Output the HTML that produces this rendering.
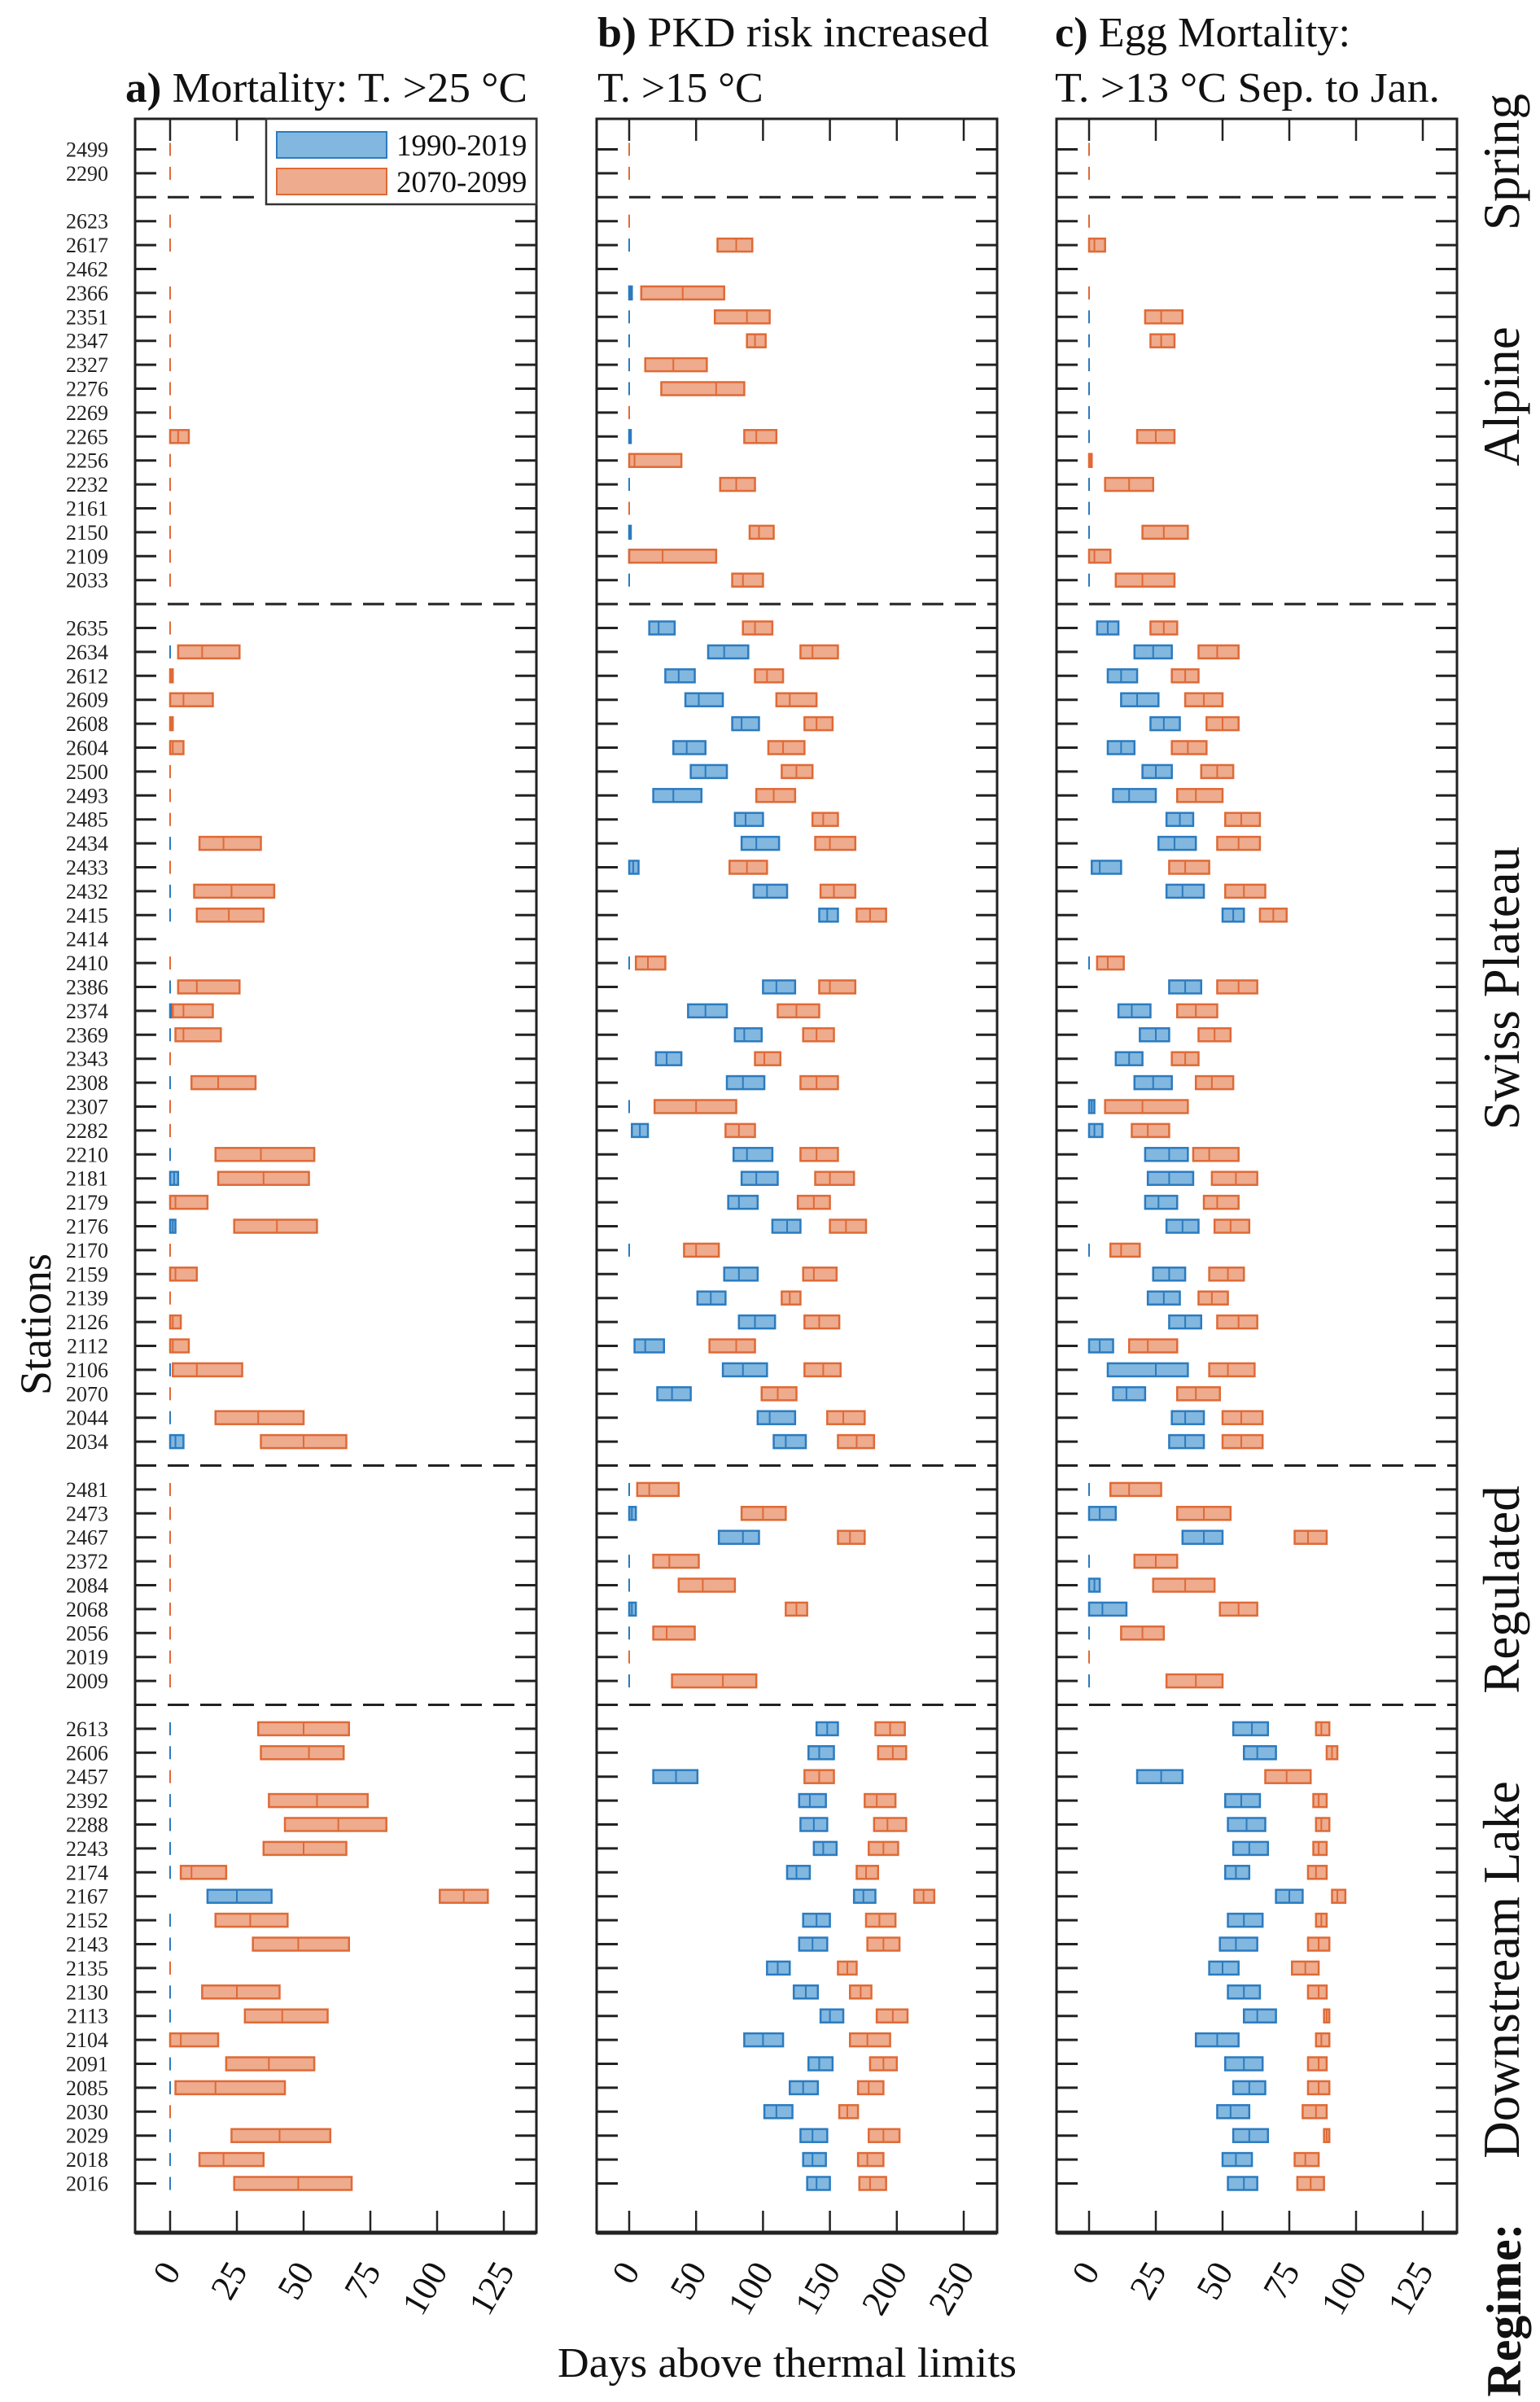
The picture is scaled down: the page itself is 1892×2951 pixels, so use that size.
<!DOCTYPE html>
<html><head><meta charset="utf-8"><style>
html,body{margin:0;padding:0;background:#fff;}
svg{display:block;font-family:"Liberation Serif",serif;}
</style></head><body>
<svg id="chart" width="1892" height="2951" viewBox="0 0 1892 2951" xmlns="http://www.w3.org/2000/svg">
<rect x="0" y="0" width="1892" height="2951" fill="#fff"/>
<g id="layer"></g>
</svg>
<script>
const stations = [2499,2290,
2623,2617,2462,2366,2351,2347,2327,2276,2269,2265,2256,2232,2161,2150,2109,2033,
2635,2634,2612,2609,2608,2604,2500,2493,2485,2434,2433,2432,2415,2414,2410,2386,2374,2369,2343,2308,2307,2282,2210,2181,2179,2176,2170,2159,2139,2126,2112,2106,2070,2044,2034,
2481,2473,2467,2372,2084,2068,2056,2019,2009,
2613,2606,2457,2392,2288,2243,2174,2167,2152,2143,2135,2130,2113,2104,2091,2085,2030,2029,2018,2016];
const groupNames = ["Spring","Alpine","Swiss Plateau","Regulated","Downstream Lake"];
const groupSizes = [2,16,35,9,20];
const N = null;
const aBlue = [N,N,
N,N,N,N,N,N,N,N,N,N,N,N,N,N,N,N,
N,0,N,N,N,N,N,N,N,0,0,0,0,N,N,0,[0,0.5,1],0,N,0,N,0,0,[0,1.5,3],N,[0,1,2],N,N,N,N,N,0,N,0,[0,2,5],
N,N,N,N,N,N,N,N,N,
0,0,N,0,0,0,0,[14,25,38],0,0,N,0,0,N,0,0,N,0,0,0];
const aOrange = [0,0,
0,0,N,0,0,0,0,0,0,[0,3,7],0,0,0,0,0,0,
0,[3,12,26],[0,0.5,1],[0,5,16],[0,0.5,1],[0,1,5],0,0,0,[11,20,34],0,[9,23,39],[10,22,35],N,0,[3,10,26],[1,5,16],[2,5,19],0,[8,18,32],0,0,[17,34,54],[18,35,52],[0,2,14],[24,40,55],0,[0,2,10],0,[0,1,4],[0,1,7],[1,10,27],0,[17,33,50],[34,50,66],
0,0,0,0,0,0,0,0,0,
[33,50,67],[34,52,65],0,[37,55,74],[43,63,81],[35,50,66],[4,8,21],[101,110,119],[17,30,44],[31,48,67],0,[12,25,41],[28,42,59],[0,4,18],[21,37,54],[2,17,43],0,[23,41,60],[11,20,35],[24,48,68]];
const bBlue = [N,N,
N,0,N,[0,1,2],0,0,0,0,N,[0,0.5,1],N,0,N,[0,0.5,1],[0,0.5,1],0,
[15,22,34],[59,71,89],[27,37,49],[42,52,70],[77,84,97],[33,43,57],[46,57,73],[18,33,54],[79,87,100],[84,95,112],[0,3,7],[93,103,118],[142,148,156],N,0,[100,110,124],[44,57,73],[79,86,99],[20,28,39],[73,85,101],0,[2,8,14],[78,88,107],[84,95,111],[74,82,96],[107,118,128],0,[71,82,96],[51,61,72],[82,94,109],[4,12,26],[70,85,103],[21,32,46],[96,105,124],[108,117,132],
0,[0,2,5],[67,85,97],0,0,[0,2,5],0,N,0,
[140,148,156],[134,142,153],[18,35,51],[127,135,147],[128,138,148],[138,145,155],[118,125,135],[168,175,184],[130,140,150],[127,137,148],[103,111,120],[123,132,141],[143,150,160],[86,100,115],[134,142,152],[120,130,141],[101,110,122],[128,137,148],[130,137,147],[133,140,150]];
const bOrange = [0,0,
0,[66,80,92],N,[9,40,71],[64,88,105],[88,94,102],[12,33,58],[24,65,86],0,[86,95,110],[0,4,39],[68,80,94],0,[90,97,108],[0,25,65],[77,85,100],
[85,94,107],[128,137,156],[94,103,115],[110,120,140],[131,140,152],[104,115,131],[114,125,137],[95,108,124],[137,145,156],[139,150,169],[75,88,103],[143,153,169],[170,180,192],N,[5,14,27],[142,150,169],[111,125,142],[130,140,153],[94,101,113],[128,140,156],[19,50,80],[72,82,94],[128,140,156],[139,150,168],[126,138,150],[150,162,177],[41,50,67],[130,138,155],[114,120,128],[131,142,157],[60,80,94],[131,145,158],[99,111,125],[148,160,176],[156,170,183],
[6,15,37],[84,100,117],[156,165,176],[18,30,52],[37,55,79],[117,125,133],[18,28,49],0,[32,70,95],
[184,195,206],[186,197,207],[131,142,153],[176,185,199],[183,193,207],[179,190,201],[170,177,186],[213,220,228],[177,187,199],[178,190,202],[156,163,170],[165,173,181],[185,197,208],[165,178,195],[180,190,200],[171,179,190],[157,163,171],[179,190,202],[171,178,190],[172,180,192]];
const cBlue = [N,N,
N,N,N,N,0,0,0,0,0,0,N,0,0,0,N,0,
[3,7,11],[17,24,31],[7,12,18],[12,18,26],[23,28,34],[7,12,17],[20,25,31],[9,15,25],[29,34,39],[26,32,40],[1,4,12],[29,35,43],[50,54,58],N,0,[30,36,42],[11,16,23],[19,25,30],[10,15,20],[17,24,31],[0,1,2],[0,2,5],[21,30,37],[22,30,39],[21,26,33],[29,35,41],0,[24,30,36],[22,28,34],[30,36,42],[0,4,9],[7,25,37],[9,14,21],[31,36,43],[30,36,43],
0,[0,4,10],[35,43,50],0,[0,2,4],[0,5,14],0,N,0,
[54,61,67],[58,63,70],[18,27,35],[51,57,64],[52,59,66],[54,60,67],[51,55,60],[70,75,80],[52,58,65],[49,55,63],[45,50,56],[52,58,64],[58,63,70],[40,48,56],[51,58,65],[54,60,66],[48,53,60],[54,60,67],[50,55,61],[52,58,63]];
const cOrange = [0,0,
0,[0,2,6],N,0,[21,27,35],[23,27,32],N,N,N,[18,25,32],[0,0.5,1],[6,15,24],N,[20,28,37],[0,2,8],[10,20,32],
[23,28,33],[41,48,56],[31,36,41],[36,43,50],[44,50,56],[31,37,44],[42,48,54],[33,40,50],[51,57,64],[48,56,64],[30,36,45],[51,58,66],[64,69,74],N,[3,7,13],[48,56,63],[33,40,48],[41,47,53],[31,36,41],[40,46,54],[6,20,37],[16,22,30],[39,45,56],[46,55,63],[43,48,56],[47,53,60],[8,12,19],[45,52,58],[41,46,52],[48,56,63],[15,22,33],[45,52,62],[33,40,49],[50,57,65],[50,57,65],
[8,15,27],[33,43,53],[77,82,89],[17,25,33],[24,36,47],[49,56,63],[12,20,28],0,[29,40,50],
[85,87,90],[89,91,93],[66,74,83],[84,86,89],[85,87,90],[84,86,89],[82,85,89],[91,93,96],[85,87,89],[82,86,90],[76,81,86],[82,86,89],[88,89,90],[85,87,90],[82,86,89],[82,86,90],[80,85,89],[88,89,90],[77,81,86],[78,83,88]];
const ticksA = [0,25,50,75,100,125];
const ticksB = [0,50,100,150,200,250];
const ticksC = [0,25,50,75,100,125];

const NS = "http://www.w3.org/2000/svg";
const layer = document.getElementById('layer');
function mk(tag, attrs, parent){
  const e = document.createElementNS(NS, tag);
  for (const k in attrs) e.setAttribute(k, attrs[k]);
  (parent||layer).appendChild(e);
  return e;
}
const TOP = 146, BOT = 2743, Y0 = 183.5, DY = 29.4;
const slots = []; const sepSlots = [];
(function(){ let s = 0; let i = 0;
  groupSizes.forEach((g, gi) => { for (let k = 0; k < g; k++) { slots[i++] = s++; } if (gi < groupSizes.length - 1) { sepSlots.push(s); s++; } });
})();
function yScale(slot){ return Y0 + slot * DY; }

const panels = [
  {id:'a', left:166, right:659, x0:209, ppd:410/125, ticks:ticksA, blue:aBlue, orange:aOrange},
  {id:'b', left:733, right:1225, x0:773, ppd:411/250, ticks:ticksB, blue:bBlue, orange:bOrange},
  {id:'c', left:1298, right:1790, x0:1338, ppd:410/125, ticks:ticksC, blue:cBlue, orange:cOrange}
];
const COL = {blue:{fill:'#82b7df', stroke:'#2b7bc0'}, orange:{fill:'#eeab8d', stroke:'#df6a36'}};

panels.forEach(p => {
  const xs = v => p.x0 + v * p.ppd;
  const g = mk('g', {});
  
  
  sepSlots.forEach(s => {
    const l = mk('line', {x1:p.left, x2:p.right, y1:yScale(s), y2:yScale(s), stroke:'#222', 'stroke-width':3, 'stroke-dasharray':'26 14'}, g);
    
    
  });
  stations.forEach((st, i) => {
    const y = yScale(slots[i]);
    mk('line', {x1:p.left, x2:p.left+26, y1:y, y2:y, stroke:'#222', 'stroke-width':3}, g);
    mk('line', {x1:p.right-26, x2:p.right, y1:y, y2:y, stroke:'#222', 'stroke-width':3}, g);
  });
  p.ticks.forEach(t => {
    const x = xs(t);
    mk('line', {x1:x, x2:x, y1:BOT, y2:BOT-27, stroke:'#222', 'stroke-width':2.5}, g);
    mk('line', {x1:x, x2:x, y1:TOP, y2:TOP+27, stroke:'#222', 'stroke-width':2.5}, g);
    const tl = mk('text', {x:x+14, y:2790, 'font-size':44, 'text-anchor':'end', transform:'rotate(-60 '+(x+14)+' 2790)', fill:'#111'}, g);
    tl.textContent = t;
    
    
  });
  ['blue','orange'].forEach(series => {
    const arr = p[series];
    arr.forEach((d, i) => {
      if (d === null || d === undefined) return;
      const y = yScale(slots[i]);
      const c = COL[series];
      if (d === 0) {
        const z = mk('line', {x1:xs(0), x2:xs(0), y1:y-8, y2:y+8, stroke:c.stroke, 'stroke-width':2}, g);
        
        
        return;
      }
      const x1 = xs(d[0]), x2 = xs(d[2]);
      const r = mk('rect', {x:x1, y:y-8, width:Math.max(2, x2-x1), height:16, fill:c.fill, stroke:c.stroke, 'stroke-width':2.5}, g);
      
      
      mk('line', {x1:xs(d[1]), x2:xs(d[1]), y1:y-8, y2:y+8, stroke:c.stroke, 'stroke-width':2}, g);
    });
  });
  const f = mk('rect', {x:p.left, y:TOP, width:p.right-p.left, height:BOT-TOP, fill:'none', stroke:'#222', 'stroke-width':3}, g);
  
  
  mk('line', {x1:p.left, x2:p.right, y1:BOT, y2:BOT, stroke:'#222', 'stroke-width':5}, g);
});

stations.forEach((st, i) => {
  const t = mk('text', {x:133, y:yScale(slots[i])+9, 'font-size':26, 'text-anchor':'end', fill:'#222'});
  t.textContent = st;
  
  
});

const lg = mk('g', {});


mk('rect', {x:327, y:146, width:332, height:105, fill:'#fff', stroke:'#333', 'stroke-width':2.5}, lg);
[['blue','1990-2019',162],['orange','2070-2099',207]].forEach(([s, lab, y]) => {
  const sw = mk('rect', {x:340, y:y, width:135, height:32, fill:COL[s].fill, stroke:COL[s].stroke, 'stroke-width':2}, lg);
  
  
  const t = mk('text', {x:487, y:y+29, 'font-size':37, fill:'#111'}, lg);
  t.textContent = lab;
  
  
});

const regionCenters = [199, 487, 1214, 1953, 2420];
groupNames.forEach((n, i) => {
  const y = regionCenters[i];
  const t = mk('text', {x:1866, y:y, 'font-size':63, 'text-anchor':'middle', transform:'rotate(-90 1866 '+y+')', fill:'#111'});
  t.textContent = n;
  
  
});
</script>
<script>
(function(){
  const NS = "http://www.w3.org/2000/svg";
  const svg = document.getElementById('chart');
  function txt(attrs, html, name){
    const e = document.createElementNS(NS, 'text');
    for (const k in attrs) e.setAttribute(k, attrs[k]);
    e.innerHTML = html;
    
    
    svg.appendChild(e);
  }
  txt({x:154, y:125, 'font-size':52, fill:'#111', textLength:494, lengthAdjust:'spacingAndGlyphs'}, '<tspan font-weight="bold">a)</tspan> Mortality: T. &gt;25 °C', 'title-a');
  txt({x:734, y:57, 'font-size':52, fill:'#111', textLength:481, lengthAdjust:'spacingAndGlyphs'}, '<tspan font-weight="bold">b)</tspan> PKD risk increased', 'title-b-line1');
  txt({x:734, y:125, 'font-size':52, fill:'#111'}, 'T. &gt;15 °C', 'title-b-line2');
  txt({x:1296, y:57, 'font-size':52, fill:'#111', textLength:363, lengthAdjust:'spacingAndGlyphs'}, '<tspan font-weight="bold">c)</tspan> Egg Mortality:', 'title-c-line1');
  txt({x:1296, y:125, 'font-size':52, fill:'#111', textLength:473, lengthAdjust:'spacingAndGlyphs'}, 'T. &gt;13 °C Sep. to Jan.', 'title-c-line2');
  txt({x:967, y:2920, 'font-size':52, fill:'#111', 'text-anchor':'middle', textLength:564, lengthAdjust:'spacingAndGlyphs'}, 'Days above thermal limits', 'x-axis-title');
  txt({x:62, y:1627, 'font-size':54, fill:'#111', 'text-anchor':'middle', transform:'rotate(-90 62 1627)'}, 'Stations', 'y-axis-title');
  txt({x:1868, y:2838, 'font-size':60, fill:'#111', 'font-weight':'bold', 'text-anchor':'middle', transform:'rotate(-90 1868 2838)'}, 'Regime:', 'regime-heading');
})();
</script>
</body></html>
